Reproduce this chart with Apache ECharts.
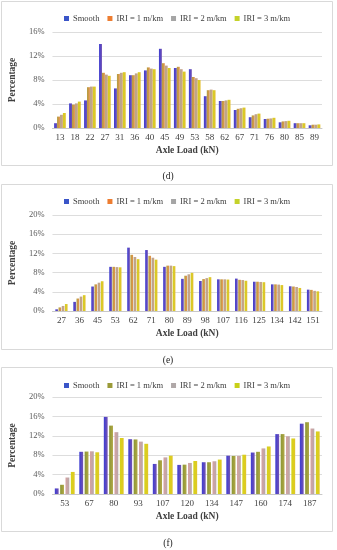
<!DOCTYPE html>
<html><head><meta charset="utf-8">
<script src="https://cdn.jsdelivr.net/npm/echarts@6/dist/echarts.min.js"></script>
<style>html,body{margin:0;padding:0;background:#fff}#c{width:337px;height:550px}</style>
</head><body><div id="c"></div>
<script>
// ---- data ----
const seriesNames = ['Smooth', 'IRI = 1 m/km', 'IRI = 2 m/km', 'IRI = 3 m/km'];

const catsD = ['13','18','22','27','31','36','40','45','49','53','58','62','67','71','76','80','85','89'];
const smoothD = [0.8, 4.1, 4.6, 14.0, 6.6, 8.8, 9.6, 13.2, 10.0, 9.8, 5.3, 4.5, 3.0, 1.8, 1.5, 0.95, 0.8, 0.45];
const iri1D   = [1.9, 3.9, 6.8, 9.2, 9.0, 8.8, 10.1, 10.8, 10.2, 8.5, 6.3, 4.5, 3.2, 2.1, 1.55, 1.1, 0.8, 0.55];
const iri2D   = [2.2, 4.1, 6.9, 8.9, 9.2, 9.1, 9.9, 10.4, 9.8, 8.3, 6.4, 4.6, 3.3, 2.3, 1.6, 1.15, 0.8, 0.55];
const iri3D   = [2.5, 4.4, 6.9, 8.7, 9.3, 9.3, 9.8, 10.0, 9.4, 8.0, 6.3, 4.7, 3.4, 2.4, 1.7, 1.2, 0.8, 0.6];

const catsE = ['27','36','45','53','62','71','80','89','98','107','116','125','134','142','151'];
const smoothE = [0.35, 1.9, 5.1, 9.2, 13.2, 12.7, 9.2, 6.7, 6.25, 6.6, 6.75, 6.1, 5.55, 5.15, 4.45];
const iri1E   = [0.75, 2.6, 5.55, 9.2, 11.7, 11.5, 9.45, 7.35, 6.65, 6.6, 6.5, 6.1, 5.55, 5.1, 4.4];
const iri2E   = [1.05, 3.0, 5.9, 9.15, 11.25, 11.1, 9.45, 7.65, 6.85, 6.6, 6.45, 6.05, 5.5, 5.0, 4.2];
const iri3E   = [1.45, 3.3, 6.2, 9.1, 10.8, 10.7, 9.35, 7.95, 7.05, 6.55, 6.3, 6.0, 5.4, 4.8, 4.1];

const catsF = ['53','67','80','93','107','120','134','147','160','174','187'];
const smoothF = [1.15, 8.7, 15.9, 11.3, 6.2, 6.0, 6.55, 7.9, 8.55, 12.35, 14.5];
const iri1F   = [1.9, 8.75, 14.1, 11.25, 6.95, 6.05, 6.55, 7.85, 8.7, 12.35, 14.8];
const iri2F   = [3.4, 8.8, 12.75, 10.8, 7.55, 6.4, 6.75, 7.85, 9.4, 11.9, 13.5];
const iri3F   = [4.55, 8.6, 11.55, 10.35, 7.9, 6.8, 7.1, 8.1, 9.8, 11.45, 12.9];

const yTicksD = {max: 16, interval: 4};
const yTicksEF = {max: 20, interval: 4};

// ---- styling ----
const FONT = '"Liberation Serif", "Times New Roman", serif';
const G = (a, b) => new echarts.graphic.LinearGradient(0, 0, 1, 0, [{offset: 0, color: a}, {offset: 1, color: b}]);
const barColorsDE = [G('#3C3CD2', '#7454B4'), G('#B0A040', '#E8914C'), G('#B4A88C', '#CFA088'), G('#D2D020', '#E4C030')];
const legendColorsDE = ['#3A55C8', '#ED7D31', '#A5A5A5', '#C4D22A'];
const barColorsF = [G('#3C3CD2', '#7454B4'), G('#8A9634', '#B2A846'), G('#D6A2A2', '#B8A8A8'), G('#D4D418', '#E2C628')];
const legendColorsF = ['#3A55C8', '#9A9A38', '#B0A8A8', '#C8D018'];

const panels = [
  {cats: catsD, data: [smoothD, iri1D, iri2D, iri3D], top: 32, height: 96, y: yTicksD, legY: 9, colors: barColorsDE, lcol: legendColorsDE, cg: '22%', bg: '0%', box: [1.5, 1.5, 331, 164], cap: '(d)', capY: 176},
  {cats: catsE, data: [smoothE, iri1E, iri2E, iri3E], top: 215, height: 96, y: yTicksEF, legY: 192, colors: barColorsDE, lcol: legendColorsDE, cg: '32%', bg: '20%', box: [1.5, 184.5, 331, 165], cap: '(e)', capY: 360},
  {cats: catsF, data: [smoothF, iri1F, iri2F, iri3F], top: 397, height: 97, y: yTicksEF, legY: 376, colors: barColorsF, lcol: legendColorsF, cg: '19%', bg: '40%', box: [1.5, 367.5, 331, 164], cap: '(f)', capY: 543}
];

const option = {
  animation: false,
  backgroundColor: '#fff',
  textStyle: {fontFamily: FONT},
  grid: [], xAxis: [], yAxis: [], series: [], legend: [], graphic: []
};

panels.forEach((p, i) => {
  option.grid.push({left: 50, width: 272, top: p.top, height: p.height, containLabel: false});
  option.xAxis.push({
    type: 'category', gridIndex: i, data: p.cats,
    name: 'Axle Load (kN)', nameLocation: 'middle', nameGap: 18,
    nameTextStyle: {fontFamily: FONT, fontWeight: 'bold', fontSize: 9.5, color: '#404040'},
    axisLine: {lineStyle: {color: '#C8C8C8'}}, axisTick: {show: false},
    axisLabel: {fontFamily: FONT, fontSize: 9, color: '#404040', margin: 5, interval: 0}
  });
  option.yAxis.push({
    type: 'value', gridIndex: i, min: 0, max: p.y.max, interval: p.y.interval,
    name: 'Percentage', nameLocation: 'middle', nameGap: 23, nameRotate: 90,
    nameTextStyle: {fontFamily: FONT, fontWeight: 'bold', fontSize: 9.5, color: '#404040'},
    axisLine: {show: false}, axisTick: {show: false},
    axisLabel: {fontFamily: FONT, fontSize: 8.5, color: '#595959', margin: 8, formatter: v => v + '%'},
    splitLine: {lineStyle: {color: '#DDDDDD'}}
  });
  seriesNames.forEach((n, k) => {
    option.series.push({
      type: 'bar', name: n, xAxisIndex: i, yAxisIndex: i, data: p.data[k],
      barCategoryGap: p.cg, barGap: p.bg,
      itemStyle: {color: p.colors[k]}
    });
  });
  option.legend.push({
    top: p.legY, left: 59, itemWidth: 5, itemHeight: 5, itemGap: 8, icon: 'rect',
    selectedMode: false,
    textStyle: {fontFamily: FONT, fontSize: 8.5, color: '#404040', padding: [0, 0, 0, -1]},
    data: seriesNames.map((n, k) => ({name: n, itemStyle: {color: p.lcol[k]}}))
  });
  option.graphic.push({
    type: 'rect', shape: {x: p.box[0], y: p.box[1], width: p.box[2], height: p.box[3]},
    style: {fill: 'none', stroke: '#D9D9D9', lineWidth: 1}, silent: true, z: -1
  });
  option.graphic.push({
    type: 'text', x: 168, y: p.capY,
    style: {text: p.cap, font: '9.5px ' + FONT, fill: '#222', align: 'center', verticalAlign: 'middle'}
  });
});

const chart = echarts.init(document.getElementById('c'), null, {renderer: 'canvas'});
chart.setOption(option);
</script>
</body></html>
